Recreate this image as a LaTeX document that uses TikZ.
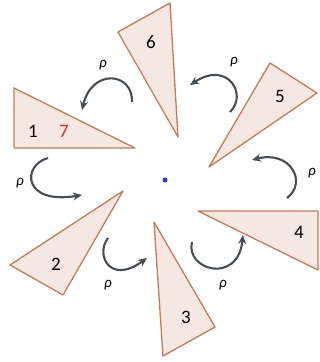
\documentclass[tikz,border=0pt]{standalone}
\usepackage{fontspec}
\setmainfont{Carlito}
\usetikzlibrary{arrows.meta}

\definecolor{triedge}{RGB}{200,122,84}
\definecolor{trifill}{RGB}{245,232,226}
\definecolor{rotgray}{RGB}{70,77,86}
\definecolor{seven}{RGB}{210,50,50}

\tikzset{
  tri/.style={draw=triedge, fill=trifill, line width=1.3pt, line join=round},
  rot/.style={rotgray, line width=2.1pt, -{Stealth[length=9pt,width=8pt]}},
  num/.style={font=\fontsize{19}{19}\selectfont},
  rholbl/.style={font=\fontsize{15}{15}\selectfont\itshape}
}

\begin{document}
\begin{tikzpicture}[x=1pt,y=-1pt]
  \useasboundingbox (0,0) rectangle (320,362);
  % the six copies of the triangle
  \foreach \p/\q/\r in {{14,88/14,148/135,148}, {123,191/10,265/63,295},
      {154,222/215,327/163,356}, {198,211/318,211/318,270},
      {270,63/317,93/209,167}, {118,32/170,3/178,137}}
    \draw[tri] (\p) -- (\q) -- (\r) -- cycle;
  \node[circle, fill=blue!80, inner sep=0pt, minimum size=5pt] (o) at (165,180) {};

  \node[num] (t1) at (33,131) {1};
  \node[num, seven] (t7) at (64,131) {7};
  \node[num] (t2) at (56,264) {2};
  \node[num] (t3) at (186,317) {3};
  \node[num] (t4) at (299,232) {4};
  \node[num] (t5) at (280,96) {5};
  \node[num] (t6) at (151,42) {6};

  % rotation arrows
  \draw[rot] (132,102) .. controls (133,72) and (92,68) .. (82,110);
  \draw[rot] (48,158) .. controls (22,165) and (22,205) .. (82,195);
  \draw[rot] (108,238) .. controls (95,255) and (110,285) .. (147,258);
  \draw[rot] (192,242) .. controls (185,270) and (238,285) .. (243,235);
  \draw[rot] (287,198) .. controls (308,182) and (290,150) .. (252,160);
  \draw[rot] (230,112) .. controls (248,95) and (228,60) .. (190,85);

  \node[rholbl] (r1) at (103,65) {ρ};
  \node[rholbl] (r2) at (20,183) {ρ};
  \node[rholbl] (r3) at (108,285) {ρ};
  \node[rholbl] (r4) at (223,285) {ρ};
  \node[rholbl] (r5) at (312,173) {ρ};
  \node[rholbl] (r6) at (234,62) {ρ};
\end{tikzpicture}
\end{document}
